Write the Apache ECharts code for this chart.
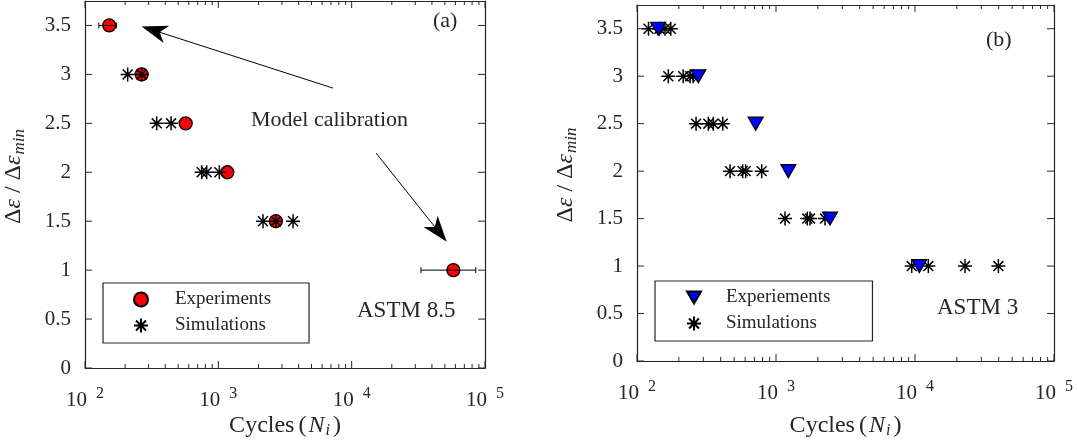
<!DOCTYPE html>
<html><head><meta charset="utf-8">
<script src="https://cdn.jsdelivr.net/npm/echarts@6/dist/echarts.min.js"></script>
<style>html,body{margin:0;padding:0;background:#fff}#c{width:1077px;height:446px}</style>
</head><body><div id="c"></div>
<script>
// ---- data ----
const yTicks = [0, 0.5, 1, 1.5, 2, 2.5, 3, 3.5];
const xMajor = [100, 1000, 10000, 100000];
const xMinor = [200,300,400,500,600,700,800,900,2000,3000,4000,5000,6000,7000,8000,9000,20000,30000,40000,50000,60000,70000,80000,90000];

// panel (a) ASTM 8.5
const aExpN = [152, 266, 569, 1168, 2700, 57900];
const aExpY = [3.5, 3, 2.5, 2, 1.5, 1];
const aSimN = [209, 266, 345, 442, 750, 818, 1018, 2163, 2700, 3635];
const aSimY = [3, 3, 2.5, 2.5, 2, 2, 2, 1.5, 1.5, 1.5];
const aErrY = [3.5, 1];
const aErrLow = [127, 33100];
const aErrHigh = [172, 85300];
const arrowFromN = [7245, 15240];
const arrowFromY = [2.86, 2.196];
const arrowToN = [266, 51640];
const arrowToY = [3.49, 1.29];

// panel (b) ASTM 3
const bExpN = [142, 276, 714, 1227, 2446, 10740];
const bExpY = [3.5, 3, 2.5, 2, 1.5, 1];
const bSimN = [121, 145, 159, 175, 168, 215, 241, 253, 266, 326, 354, 414, 467, 576, 605, 789, 1161, 1680, 1758, 2253, 9470, 12470, 22900, 39800];
const bSimY = [3.5,3.5,3.5,3.5, 3,3,3,3, 2.5,2.5,2.5,2.5, 2,2,2,2, 1.5,1.5,1.5,1.5, 1,1,1,1];

// ---- styles ----
const FONT = '"Liberation Serif", "DejaVu Serif", serif';
const AX = '#262626';
const TXT = '#262626';
const star = 'path://M0,5 L10,5 M5,0 L5,10 M1.46,1.46 L8.54,8.54 M1.46,8.54 L8.54,1.46';
const triDown = 'path://M0,0 L10,0 L5,8.66 Z';
const zip = (a, b) => a.map((v, i) => [v, b[i]]);

const nameRichY = {
  n: {fontFamily: FONT, fontSize: 24, color: TXT},
  sl: {fontFamily: FONT, fontSize: 24, color: TXT, padding: [0, 6, 0, 6]},
  i: {fontFamily: FONT, fontSize: 24, fontStyle: 'italic', color: TXT},
  sub: {fontFamily: FONT, fontSize: 17, fontStyle: 'italic', color: TXT, padding: [12, 0, 0, 1]}
};
const nameRichX = {
  n: {fontFamily: FONT, fontSize: 24, color: TXT},
  p: {fontFamily: FONT, fontSize: 24, color: TXT, padding: [0, 2, 0, 4]},
  i: {fontFamily: FONT, fontSize: 24, fontStyle: 'italic', color: TXT},
  sub: {fontFamily: FONT, fontSize: 16, fontStyle: 'italic', color: TXT, padding: [10, 3, 0, 1]}
};
const xLabelRich = {
  b: {fontFamily: FONT, fontSize: 21, color: TXT, lineHeight: 22},
  s: {fontFamily: FONT, fontSize: 16, color: TXT, lineHeight: 16, padding: [0, 0, 13, 9]}
};

function xAxisDef(gi, pos, nameGap) {
  const bottom = pos === 'bottom';
  return {
    type: 'log', logBase: 10, gridIndex: gi, position: pos, min: 100, max: 100000,
    axisLine: {show: true, onZero: false, lineStyle: {color: AX, width: 1.2}},
    axisTick: {show: false},
    splitLine: {show: false}, minorTick: {show: false},
    axisLabel: bottom ? {show: true, margin: 21, rich: xLabelRich,
      formatter: v => '{b|10}{s|' + Math.round(Math.log10(v)) + '}'} : {show: false},
    name: bottom ? '{n|Cycles}{p|(}{i|N}{sub|i}{n|)}' : '',
    nameLocation: 'middle', nameGap: nameGap, nameMoveOverlap: false,
    nameTextStyle: {rich: nameRichX}
  };
}
function yAxisDef(gi, pos, nameGap) {
  const left = pos === 'left';
  return {
    type: 'value', gridIndex: gi, position: pos, min: 0, max: 3.75, interval: 0.5,
    axisLine: {show: true, onZero: false, lineStyle: {color: AX, width: 1.2}},
    axisTick: {show: false},
    splitLine: {show: false},
    axisLabel: left ? {show: true, margin: 14, fontFamily: FONT, fontSize: 21, color: TXT,
      showMaxLabel: false, formatter: v => yTicks.includes(v) ? String(v) : ''} : {show: false},
    name: left ? '{n|Δ}{i|ε}{sl|/}{n|Δ}{i|ε}{sub|min}' : '',
    nameLocation: 'middle', nameGap: nameGap, nameRotate: 90, nameMoveOverlap: false,
    nameTextStyle: {rich: nameRichY, padding: [0, 0, 0, 16]}
  };
}

// ticks drawn through the axes' own scales (box style, ticks inside on all four sides)
function tickSeries(xi, yi) {
  const items = [];
  xMajor.forEach(v => items.push([v, 0, 0, 7]));
  xMinor.forEach(v => items.push([v, 0, 0, 4]));
  yTicks.forEach(v => items.push([100, v, 1, 7]));
  return {
    type: 'custom', xAxisIndex: xi, yAxisIndex: yi, silent: true, clip: false, z: 1,
    data: items, encode: {x: 0, y: 1},
    renderItem: (params, api) => {
      const kind = api.value(2), len = api.value(3);
      const s = {stroke: AX, lineWidth: 1};
      if (kind === 0) {
        const v = api.value(0);
        const b = api.coord([v, 0]);
        const t = api.coord([v, 3.75]);
        return {type: 'group', children: [
          {type: 'line', shape: {x1: b[0], y1: b[1], x2: b[0], y2: b[1] - len}, style: s},
          {type: 'line', shape: {x1: t[0], y1: t[1], x2: t[0], y2: t[1] + len}, style: s}
        ]};
      }
      const v = api.value(1);
      const l = api.coord([100, v]);
      const r = api.coord([100000, v]);
      return {type: 'group', children: [
        {type: 'line', shape: {x1: l[0], y1: l[1], x2: l[0] + len, y2: l[1]}, style: s},
        {type: 'line', shape: {x1: r[0], y1: r[1], x2: r[0] - len, y2: r[1]}, style: s}
      ]};
    }
  };
}

const option = {
  animation: false,
  backgroundColor: '#fff',
  grid: [
    {left: 85, right: 592, top: 1, bottom: 78, containLabel: false, outerBoundsMode: 'none'},
    {left: 637, right: 23, top: 5, bottom: 85, containLabel: false, outerBoundsMode: 'none'}
  ],
  xAxis: [xAxisDef(0, 'bottom', 45), xAxisDef(0, 'top', 0), xAxisDef(1, 'bottom', 52), xAxisDef(1, 'top', 0)],
  yAxis: [yAxisDef(0, 'left', 57), yAxisDef(0, 'right', 0), yAxisDef(1, 'left', 57), yAxisDef(1, 'right', 0)],
  legend: [
    {orient: 'vertical', left: 103, top: 283, itemWidth: 14, itemHeight: 14, itemGap: 7,
      padding: [7, 38, 8, 30], borderColor: '#262626', borderWidth: 1.2, backgroundColor: '#fff',
      data: ['Experiments', 'Simulations'], selectedMode: false,
      textStyle: {fontFamily: FONT, fontSize: 19, color: TXT, padding: [0, 0, 0, 22]}},
    {orient: 'vertical', left: 655, top: 281, itemWidth: 14, itemHeight: 14, itemGap: 7,
      padding: [7, 42, 8, 31], borderColor: '#262626', borderWidth: 1.2, backgroundColor: '#fff',
      data: ['Experiements', 'Simulations'], selectedMode: false,
      textStyle: {fontFamily: FONT, fontSize: 19, color: TXT, padding: [0, 0, 0, 20]}}
  ],
  graphic: [
    {type: 'text', left: 433, top: 10, style: {text: '(a)', font: '22px ' + FONT, fill: TXT}},
    {type: 'text', left: 986, top: 29, style: {text: '(b)', font: '22px ' + FONT, fill: TXT}},
    {type: 'text', left: 251, top: 109, style: {text: 'Model calibration', font: '22px ' + FONT, fill: TXT}},
    {type: 'text', left: 357, top: 299, style: {text: 'ASTM 8.5', font: '23px ' + FONT, fill: TXT}},
    {type: 'text', left: 937, top: 296, style: {text: 'ASTM 3', font: '23px ' + FONT, fill: TXT}}
  ],
  series: [
    {name: 'Experiments', type: 'scatter', xAxisIndex: 0, yAxisIndex: 0, z: 2,
      symbol: 'circle', symbolSize: 13, data: zip(aExpN, aExpY),
      itemStyle: {color: '#ff0000', borderColor: '#000', borderWidth: 1.3, opacity: 1}},
    {name: 'Simulations', type: 'scatter', xAxisIndex: 0, yAxisIndex: 0, z: 3,
      symbol: star, symbolSize: 14, data: zip(aSimN, aSimY),
      itemStyle: {color: 'rgba(0,0,0,0)', borderColor: '#000', borderWidth: 1.5, opacity: 1}},
    {type: 'custom', xAxisIndex: 0, yAxisIndex: 0, z: 4, silent: true,
      data: aErrY.map((y, i) => [y, aErrLow[i], aErrHigh[i]]), encode: {x: [1, 2], y: 0},
      renderItem: (params, api) => {
        const y = api.value(0);
        const p1 = api.coord([api.value(1), y]);
        const p2 = api.coord([api.value(2), y]);
        const s = {stroke: '#000', lineWidth: 1};
        return {type: 'group', children: [
          {type: 'line', shape: {x1: p1[0], y1: p1[1], x2: p2[0], y2: p2[1]}, style: s},
          {type: 'line', shape: {x1: p1[0], y1: p1[1] - 3, x2: p1[0], y2: p1[1] + 3}, style: s},
          {type: 'line', shape: {x1: p2[0], y1: p2[1] - 3, x2: p2[0], y2: p2[1] + 3}, style: s}
        ]};
      }},
    {type: 'custom', xAxisIndex: 0, yAxisIndex: 0, z: 5, silent: true, clip: false,
      data: arrowFromN.map((n, i) => [n, arrowFromY[i], arrowToN[i], arrowToY[i]]), encode: {x: [0, 2], y: [1, 3]},
      renderItem: (params, api) => {
        const a = api.coord([api.value(0), api.value(1)]);
        const b = api.coord([api.value(2), api.value(3)]);
        const dx = b[0] - a[0], dy = b[1] - a[1];
        const L = Math.hypot(dx, dy), ux = dx / L, uy = dy / L, nx = -uy, ny = ux;
        const len = 26, hw = 9, notch = 19;
        const back = [b[0] - ux * len, b[1] - uy * len];
        const pts = [b,
          [back[0] + nx * hw, back[1] + ny * hw],
          [b[0] - ux * notch, b[1] - uy * notch],
          [back[0] - nx * hw, back[1] - ny * hw]];
        return {type: 'group', children: [
          {type: 'line', shape: {x1: a[0], y1: a[1], x2: b[0] - ux * notch, y2: b[1] - uy * notch}, style: {stroke: '#000', lineWidth: 1}},
          {type: 'polygon', shape: {points: pts}, style: {fill: '#000'}}
        ]};
      }},
    tickSeries(0, 0),
    {name: 'Simulations', type: 'scatter', xAxisIndex: 2, yAxisIndex: 2, z: 2,
      symbol: star, symbolSize: 14, data: zip(bSimN, bSimY),
      itemStyle: {color: 'rgba(0,0,0,0)', borderColor: '#000', borderWidth: 1.5, opacity: 1}},
    {name: 'Experiements', type: 'scatter', xAxisIndex: 2, yAxisIndex: 2, z: 3,
      symbol: triDown, symbolSize: [15, 13], data: zip(bExpN, bExpY),
      itemStyle: {color: '#0000ff', borderColor: '#000', borderWidth: 1.2, opacity: 1}},
    tickSeries(2, 2)
  ]
};
const chart = echarts.init(document.getElementById('c'), null, {renderer: 'canvas'});
chart.setOption(option);
</script>
</body></html>
